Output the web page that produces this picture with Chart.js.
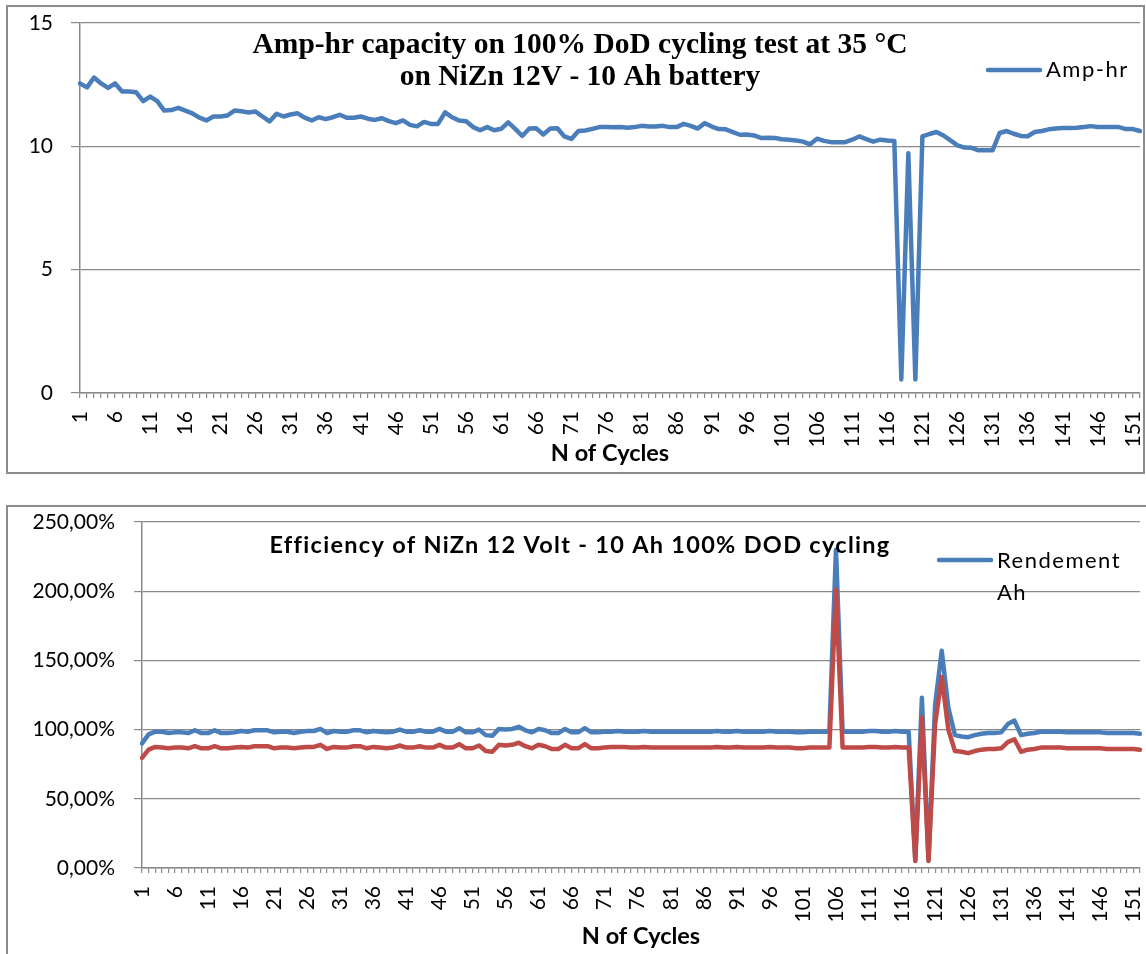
<!DOCTYPE html>
<html>
<head>
<meta charset="utf-8">
<script src="https://cdn.jsdelivr.net/npm/chart.js@4.4.1/dist/chart.umd.min.js"></script>
<style>
  html, body { margin: 0; padding: 0; background: #fff; }
  body { width: 1146px; height: 954px; position: relative; overflow: hidden; }
  .wrap { position: absolute; left: 0; width: 1146px; }
  .frame { position: absolute; box-sizing: border-box; border: 2px solid #8c8c8c; pointer-events: none; }
</style>
</head>
<body>
<div class="wrap" style="top:0;height:490px"><canvas id="capChart"></canvas></div>
<div class="wrap" style="top:490px;height:464px"><canvas id="effChart"></canvas></div>
<div class="frame" style="left:6px;top:5px;width:1139px;height:469px"></div>
<div class="frame" style="left:6px;top:505px;width:1150px;height:500px"></div>
<script>
// cycle numbers 1..152
const cycles = Array.from({ length: 152 }, (_, i) => String(i + 1));

// Amp-hr capacity per cycle
const ampHr = [
  12.55, 12.39, 12.79, 12.55, 12.37, 12.55, 12.22, 12.22, 12.19, 11.83,
  12.02, 11.83, 11.45, 11.47, 11.56, 11.45, 11.34, 11.16, 11.05, 11.21,
  11.21, 11.25, 11.45, 11.42, 11.37, 11.41, 11.21, 11.01, 11.32, 11.21,
  11.29, 11.34, 11.16, 11.05, 11.18, 11.10, 11.18, 11.28, 11.16, 11.16,
  11.21, 11.12, 11.07, 11.14, 11.02, 10.94, 11.05, 10.87, 10.81, 10.99,
  10.91, 10.91, 11.38, 11.18, 11.05, 11.02, 10.78, 10.65, 10.78, 10.65,
  10.71, 10.97, 10.71, 10.42, 10.72, 10.73, 10.48, 10.72, 10.73, 10.40,
  10.30, 10.62, 10.64, 10.71, 10.78, 10.78, 10.77, 10.78, 10.75, 10.78,
  10.83, 10.80, 10.80, 10.83, 10.78, 10.78, 10.91, 10.83, 10.72, 10.94,
  10.80, 10.70, 10.69, 10.58, 10.47, 10.48, 10.44, 10.34, 10.35, 10.34,
  10.29, 10.27, 10.24, 10.19, 10.08, 10.31, 10.22, 10.17, 10.17, 10.17,
  10.27, 10.40, 10.29, 10.19, 10.27, 10.24, 10.22, 0.55, 9.72, 0.55,
  10.40, 10.50, 10.58, 10.44, 10.24, 10.04, 9.95, 9.94, 9.84, 9.84,
  9.84, 10.54, 10.62, 10.51, 10.42, 10.41, 10.58, 10.62, 10.69, 10.72,
  10.74, 10.74, 10.75, 10.78, 10.82, 10.78, 10.78, 10.78, 10.78, 10.70,
  10.70, 10.62
];

// efficiency (%) per cycle
const rendementAh = [
  90, 96.5, 98.5, 98.5, 97.5, 98, 98, 97.5, 99.5, 97.5,
  97.5, 99.5, 97.5, 97.5, 98, 99, 98.5, 99.5, 99.5, 99.5,
  98, 98.5, 98.5, 97.5, 98.5, 99, 99, 100.5, 97.5, 99,
  98.5, 98.5, 99.5, 99.5, 98, 99, 98.5, 98, 98.5, 100,
  98.5, 98.5, 99.5, 98.5, 98.5, 100.5, 98.5, 98.5, 101, 98,
  98, 100, 96, 95.5, 100.5, 100, 100.5, 102, 99.5, 98,
  100.5, 99.5, 97.5, 97.5, 100.5, 98, 98, 101, 98, 98,
  98.5, 98.5, 99, 98.5, 98.5, 98.5, 99, 98.5, 98.5, 98.5,
  98.5, 98.5, 98.5, 98.5, 98.5, 98.5, 98.5, 99, 98.5, 98.5,
  99, 98.5, 98.5, 98.5, 98.5, 99, 98.5, 98.5, 98.5, 98,
  98, 98.5, 98.5, 98.5, 98.5, 230, 98.5, 98.5, 98.5, 98.5,
  99, 99, 98.5, 98.5, 99, 98.5, 98.5, 6, 123, 6,
  118, 157, 116, 96, 95, 94.5, 96, 97, 97.5, 97.5,
  98, 104, 106.5, 96, 97, 97.5, 98.5, 98.5, 98.5, 98.5,
  98, 98, 98, 98, 98, 98, 97.5, 97.5, 97.5, 97.5,
  97.5, 97
];

const rendementWh = [
  79.5, 85.5, 87.5, 87, 86.5, 87, 87, 86.5, 88, 86.5,
  86.5, 88, 86.5, 86.5, 87, 87.5, 87, 88, 88, 88,
  86.5, 87, 87, 86.5, 87, 87.5, 87.5, 89, 86, 87.5,
  87, 87, 88, 88, 86.5, 87.5, 87, 86.5, 87, 88.5,
  87, 87, 88, 87, 87, 89, 87, 87, 89.5, 86.5,
  86.5, 88.5, 84.5, 84, 89, 88.5, 89, 90.5, 88, 86.5,
  89, 88, 86, 86, 89, 86.5, 86.5, 89.5, 86.5, 86.5,
  87, 87.5, 87.5, 87.5, 87, 87, 87.5, 87, 87, 87,
  87, 87, 87, 87, 87, 87, 87, 87.5, 87, 87,
  87.5, 87, 87, 87, 87, 87.5, 87, 87, 87, 86.5,
  86.5, 87, 87, 87, 87, 201, 87, 87, 87, 87,
  87.5, 87.5, 87, 87, 87.5, 87, 87, 5, 109, 5,
  104, 138, 100, 84.5, 84, 83, 84.5, 85.5, 86, 86,
  86.5, 91, 93, 84, 85.5, 86, 87, 87, 87, 87,
  86.5, 86.5, 86.5, 86.5, 86.5, 86.5, 86, 86, 86, 86,
  86, 85.5
];

const capTitle = ['Amp-hr capacity on 100% DoD cycling test at 35 °C', 'on NiZn 12V - 10 Ah battery'];
const effTitle = ['Efficiency of NiZn 12 Volt - 10 Ah 100% DOD cycling'];
const xTitle = 'N of Cycles';

const BLUE = '#4a7ebb';
const RED = '#be4b48';
const GRID = '#8a8a8a';

Chart.defaults.font.family = 'Lato, "Open Sans", sans-serif';
Chart.defaults.color = '#000';

// title + legend drawn inside the plot, as in the spreadsheet chart
const overlay = {
  id: 'overlay',
  afterDraw(chart, args, o) {
    const ctx = chart.ctx;
    ctx.save();
    ctx.fillStyle = '#000';
    ctx.textBaseline = 'alphabetic';
    ctx.textAlign = 'center';
    ctx.font = o.titleFont;
    ctx.letterSpacing = o.titleSpacing + 'px';
    o.title.forEach((t, i) => ctx.fillText(t, o.titleX, o.titleY + i * o.titleGap));
    ctx.strokeStyle = o.legendColor;
    ctx.lineWidth = 4.5;
    ctx.lineCap = 'round';
    ctx.beginPath();
    ctx.moveTo(o.legendX1, o.legendY);
    ctx.lineTo(o.legendX2, o.legendY);
    ctx.stroke();
    ctx.textAlign = 'left';
    ctx.font = o.legendFont;
    ctx.letterSpacing = '1.5px';
    o.legendText.forEach((t, i) => ctx.fillText(t, o.legendX2 + 6, o.legendBase + i * o.legendGap));
    ctx.restore();
  }
};

function xAxis(height) {
  return {
    type: 'category',
    offset: false,
    grid: { drawOnChartArea: false, drawTicks: true, tickLength: 5, color: GRID, lineWidth: 1.2 },
    border: { color: GRID, width: 1.5 },
    ticks: {
      autoSkip: false, minRotation: 90, maxRotation: 90, padding: 13,
      font: { size: 21 },
      callback(v, i) { return i % 5 === 0 ? this.getLabelForValue(v) : ''; }
    },
    title: { display: true, text: xTitle, font: { size: 23.5, weight: 'bold' }, padding: 0 },
    afterFit(s) {
      s.height = height;
      s.paddingLeft = 0;
      s.paddingRight = 0;
    }
  };
}

function yAxis(width, max, step, tickLen, pad, fmt) {
  return {
    min: 0, max: max,
    grid: { color: GRID, lineWidth: 1.2, tickLength: tickLen },
    border: { color: GRID, width: 1.5 },
    ticks: { stepSize: step, padding: pad, font: { size: 21 }, callback: fmt },
    afterFit(s) {
      s.width = width;
      s.paddingTop = 0;
      s.paddingBottom = 0;
    }
  };
}

function lineSet(label, data, color, order) {
  return {
    label, data, order,
    borderColor: color, backgroundColor: color,
    borderWidth: 4.5, pointRadius: 0, tension: 0,
    borderJoinStyle: 'round', borderCapStyle: 'round'
  };
}

new Chart(document.getElementById('capChart'), {
  type: 'line',
  data: { labels: cycles, datasets: [lineSet('Amp-hr', ampHr, BLUE, 0)] },
  options: {
    responsive: true, maintainAspectRatio: false, animation: false,
    devicePixelRatio: 1,
    layout: { padding: { left: 0, right: 6, top: 23, bottom: 22 }, autoPadding: false },
    scales: {
      x: xAxis(75),
      y: yAxis(80, 15, 5, 9, 18, v => String(v))
    },
    plugins: {
      legend: { display: false }, tooltip: { enabled: false },
      overlay: {
        title: capTitle, titleFont: 'bold 29.5px "Liberation Serif", "DejaVu Serif", serif',
        titleSpacing: 0, titleX: 580, titleY: 53, titleGap: 32,
        legendColor: BLUE, legendX1: 988, legendX2: 1040, legendY: 70,
        legendText: ['Amp-hr'], legendFont: '22px Lato, sans-serif', legendBase: 77, legendGap: 32
      }
    }
  },
  plugins: [overlay]
});

new Chart(document.getElementById('effChart'), {
  type: 'line',
  data: {
    labels: cycles,
    datasets: [lineSet('Rendement Ah', rendementAh, BLUE, 1), lineSet('Rendement Wh', rendementWh, RED, 0)]
  },
  options: {
    responsive: true, maintainAspectRatio: false, animation: false,
    devicePixelRatio: 1,
    layout: { padding: { left: 0, right: 6, top: 32, bottom: 3 }, autoPadding: false },
    scales: {
      x: xAxis(83),
      y: yAxis(142, 250, 50, 8, 19, v => v.toFixed(2).replace('.', ',') + '%')
    },
    plugins: {
      legend: { display: false }, tooltip: { enabled: false },
      overlay: {
        title: effTitle, titleFont: 'bold 23.5px Lato, sans-serif',
        titleSpacing: 1.3, titleX: 580, titleY: 63, titleGap: 30,
        legendColor: BLUE, legendX1: 939, legendX2: 991, legendY: 70,
        legendText: ['Rendement', 'Ah'], legendFont: '22px Lato, sans-serif', legendBase: 78, legendGap: 32
      }
    }
  },
  plugins: [overlay]
});
</script>
</body>
</html>
